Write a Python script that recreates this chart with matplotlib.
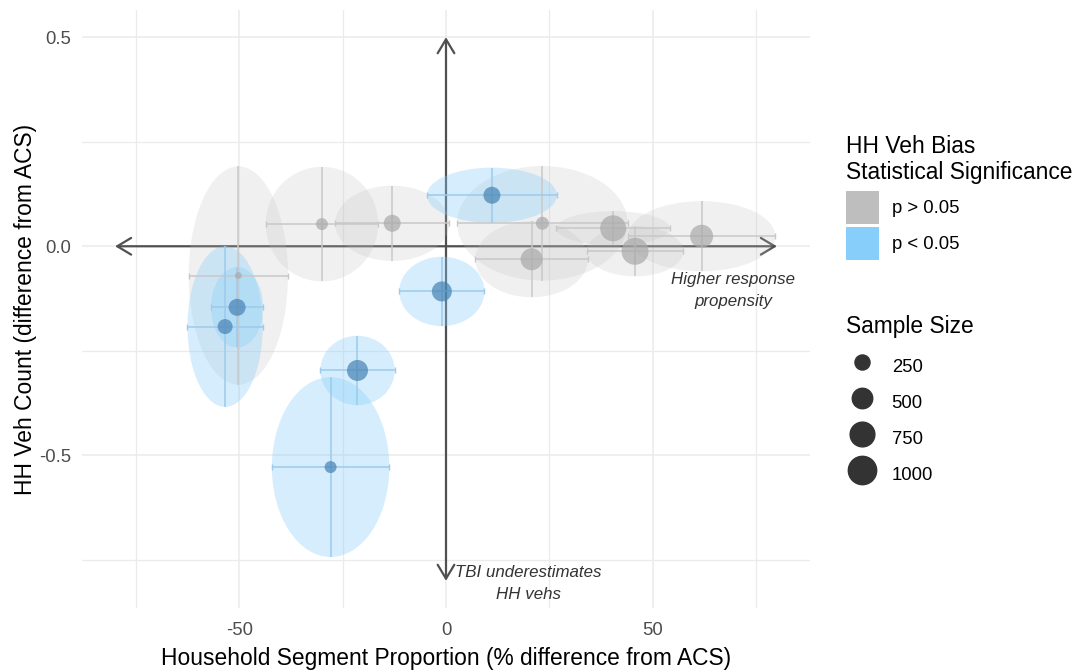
import numpy as np
import matplotlib
matplotlib.use('Agg')
import matplotlib.pyplot as plt
from matplotlib.patches import Ellipse, Patch, FancyArrowPatch
from matplotlib.lines import Line2D

plt.rcParams['font.family'] = ['Liberation Sans', 'DejaVu Sans']
plt.rcParams['axes.unicode_minus'] = False

# segment estimates: % difference in proportion (x), veh count difference (y)
seg_x = [-30.0, -13.0, -50.2, 23.3, 20.7, 40.4, 45.7, 61.8,
         11.1, -1.0, -50.5, -53.4, -21.4, -27.9]
seg_y = [0.053, 0.055, -0.070, 0.055, -0.031, 0.043, -0.012, 0.024,
         0.122, -0.108, -0.146, -0.192, -0.297, -0.528]
# half-widths of the confidence intervals
seg_x_err = [13.6, 13.8, 12.0, 20.6, 13.6, 13.7, 11.7, 17.8,
             15.7, 10.3, 6.3, 9.1, 9.0, 14.2]
seg_y_err = [0.137, 0.090, 0.261, 0.137, 0.091, 0.041, 0.060, 0.084,
             0.066, 0.083, 0.096, 0.192, 0.083, 0.215]
seg_n = [142, 330, 15, 174, 583, 832, 901, 642,
         330, 474, 330, 247, 527, 142]
seg_sig = [False] * 8 + [True] * 6

size_breaks = [250, 500, 750, 1000]
x_ticks = [-50, 0, 50]
y_ticks = [-0.5, 0.0, 0.5]

FILL = {False: '#BEBEBE', True: '#87CEFA'}
POINT = {False: '#A9A9A9', True: '#4682B4'}
BAR = {False: '#c8c8c8', True: '#9ccbec'}

BASE = 16.4
SMALL = 13.3
W, H = 1082, 671


def marker_pt(n):
    # area grows linearly with sample size (diameter in px -> points)
    d_px = np.sqrt(35 + 0.77 * np.asarray(n, dtype=float))
    return d_px * 0.72


fig = plt.figure(figsize=(W / 100, H / 100), dpi=100)
ax = fig.add_axes([82 / W, 63 / H, 728 / W, 598 / H])

ax.set_xlim(-88, 88)
ax.set_ylim(-0.865, 0.565)
ax.set_xticks(x_ticks)
ax.set_xticks([-75, -25, 25, 75], minor=True)
ax.set_yticks(y_ticks)
ax.set_yticks([-0.75, -0.25, 0.25], minor=True)
ax.set_yticklabels([f'{v:.1f}' for v in y_ticks])
ax.grid(True, which='major', color='#EBEBEB', lw=1.1)
ax.grid(True, which='minor', color='#EBEBEB', lw=0.9)
ax.set_axisbelow(True)
for s in ax.spines.values():
    s.set_visible(False)
ax.tick_params(which='both', length=0, labelsize=SMALL, labelcolor='#4D4D4D')
ax.tick_params(axis='x', pad=10)
ax.tick_params(axis='y', pad=8)

# quadrant arrows
for (a, b) in [((-80, 0), (80, 0)), ((0, -0.8), (0, 0.5))]:
    ax.add_patch(FancyArrowPatch(a, b, arrowstyle='<->,head_length=10,head_width=6',
                                 color='#505050', lw=1.6, zorder=1,
                                 shrinkA=0, shrinkB=0))

# confidence ellipses
for x, y, ex, ey, sig in zip(seg_x, seg_y, seg_x_err, seg_y_err, seg_sig):
    ax.add_patch(Ellipse((x, y), 2 * ex, 2 * ey, facecolor=FILL[sig],
                         alpha=0.35 if sig else 0.22, edgecolor='none', zorder=2))

# error bars
for x, y, ex, ey, sig in zip(seg_x, seg_y, seg_x_err, seg_y_err, seg_sig):
    ax.errorbar(x, y, xerr=ex, fmt='none', ecolor=BAR[sig], elinewidth=1.1,
                capsize=2.5, capthick=1.0, zorder=3)
    ax.errorbar(x, y, yerr=ey, fmt='none', ecolor=BAR[sig], elinewidth=1.1,
                capsize=0, zorder=3)

# points sized by sample size
ax.scatter(seg_x, seg_y, s=marker_pt(seg_n) ** 2,
           c=[POINT[s] for s in seg_sig], alpha=0.7, edgecolors='none', zorder=4)

ax.text(69.5, -0.106, 'Higher response\npropensity', ha='center', va='center',
        style='italic', fontsize=12.2, color='#333333', linespacing=1.6)
ax.text(20, -0.806, 'TBI underestimates\nHH vehs', ha='center', va='center',
        style='italic', fontsize=12.2, color='#333333', linespacing=1.6)

ax.set_xlabel('Household Segment Proportion (% difference from ACS)',
              fontsize=BASE, labelpad=6)
ax.set_ylabel('HH Veh Count (difference from ACS)', fontsize=BASE, labelpad=1)

# legend titles set as figure text, keys below them
fig.text(846 / W, 1 - 135 / H, 'HH Veh Bias\nStatistical Significance',
         ha='left', va='top', fontsize=BASE, linespacing=1.15)
fig.text(846 / W, 1 - 315 / H, 'Sample Size', ha='left', va='top', fontsize=BASE)

sig_handles = [Patch(facecolor=FILL[False], edgecolor='none'),
               Patch(facecolor=FILL[True], edgecolor='none')]
fig.legend(sig_handles, ['p > 0.05', 'p < 0.05'],
           loc='upper left', bbox_to_anchor=(846 / W, 1 - 191 / H),
           frameon=False, fontsize=SMALL, handlelength=1.78, handleheight=2.36,
           labelspacing=0.16, handletextpad=0.7, borderpad=0, borderaxespad=0)

size_handles = [Line2D([], [], ls='none', marker='o', color='#333333',
                       markersize=marker_pt(n)) for n in size_breaks]
fig.legend(size_handles, [str(n) for n in size_breaks],
           loc='upper left', bbox_to_anchor=(846 / W, 1 - 352 / H),
           frameon=False, fontsize=SMALL, handlelength=1.72, handleheight=1.92,
           labelspacing=0.455, handletextpad=0.75, borderpad=0, borderaxespad=0)

fig.savefig('out.png', dpi=100, facecolor='white')
